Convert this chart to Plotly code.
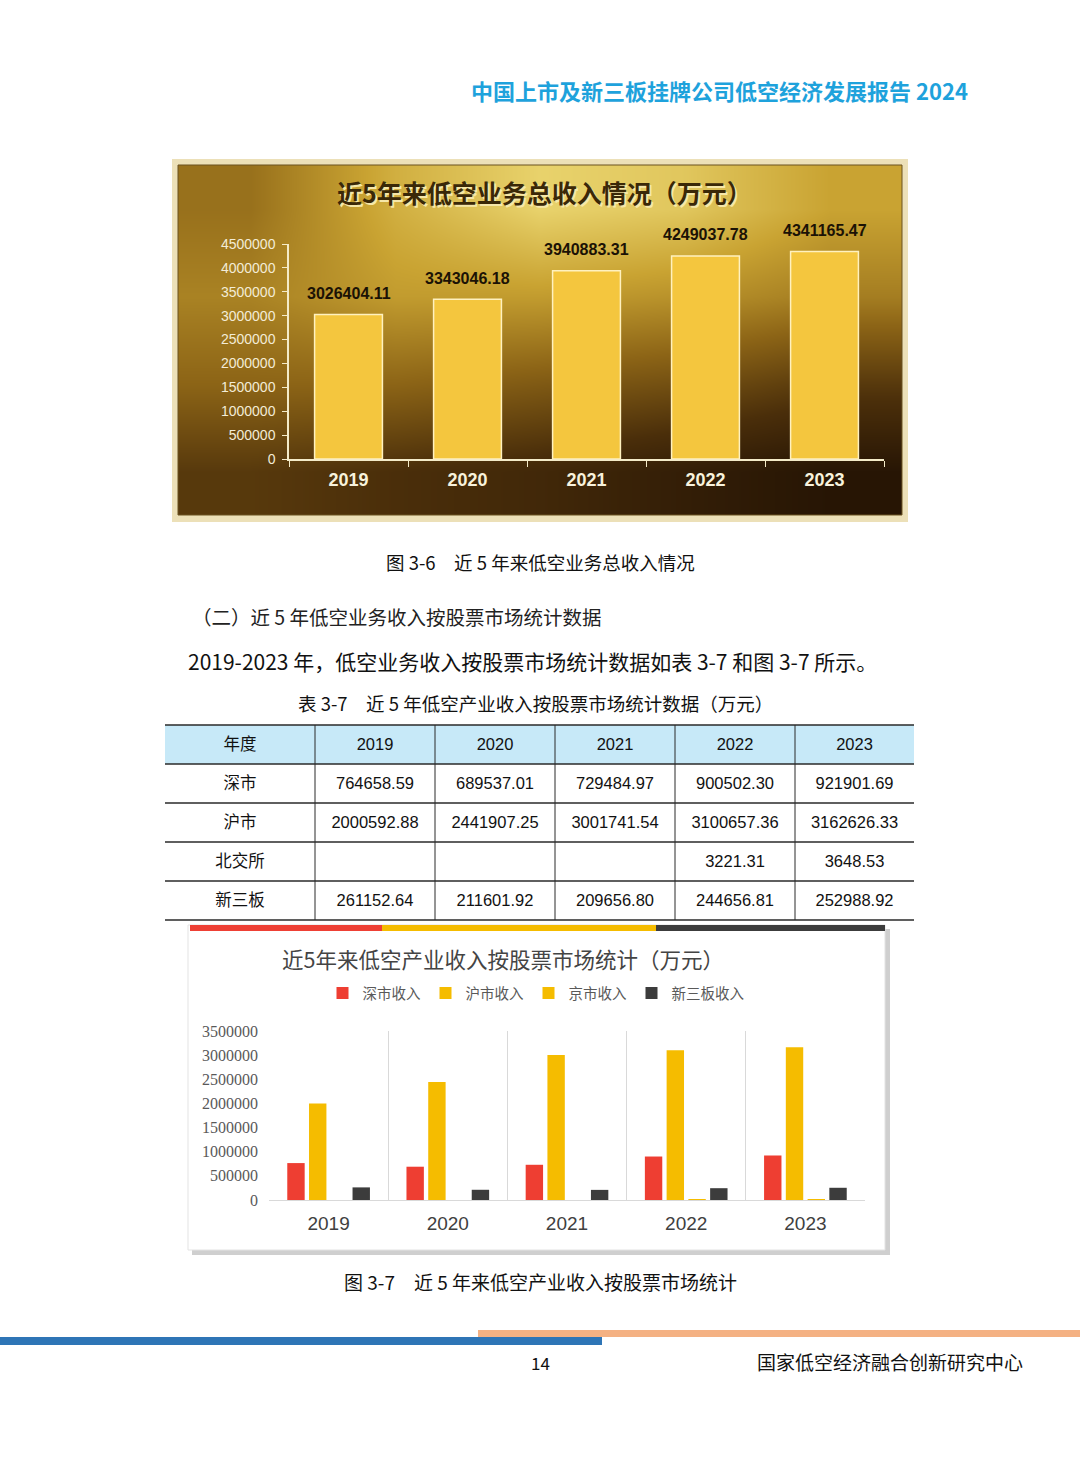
import plotly.graph_objects as go

W, H = 1080, 1465
CJK = "Noto Sans CJK SC"

years = ["2019", "2020", "2021", "2022", "2023"]
total_income = [3026404.11, 3343046.18, 3940883.31, 4249037.78, 4341165.47]

markets = ["深市", "沪市", "北交所", "新三板"]
sz_income = [764658.59, 689537.01, 729484.97, 900502.30, 921901.69]
sh_income = [2000592.88, 2441907.25, 3001741.54, 3100657.36, 3162626.33]
bj_income = [None, None, None, 3221.31, 3648.53]
xsb_income = [261152.64, 211601.92, 209656.80, 244656.81, 252988.92]
legend_names = ["深市收入", "沪市收入", "京市收入", "新三板收入"]

# gold backdrop for the first chart (bottom row first)
bg_grid = [[0.30, 0.25, 0.20, 0.12, 0.05],
           [0.50, 0.50, 0.45, 0.40, 0.30],
           [0.62, 0.72, 0.72, 0.68, 0.60],
           [0.55, 0.80, 0.95, 0.90, 0.75]]
bg_scale = [[0, '#1e0f03'], [0.25, '#4a2e0a'], [0.5, '#8c6416'],
            [0.75, '#c9a332'], [1, '#f0de7a']]


def px_x(p):
    return p / W


def px_y(p):
    return 1 - p / H


def fmt(v):
    return "" if v is None else "{:.2f}".format(v)


fig = go.Figure()

fig.add_trace(go.Heatmap(z=bg_grid, colorscale=bg_scale, zmin=0, zmax=1, zsmooth='best',
                         showscale=False, hoverinfo='skip', xaxis='x', yaxis='y'))

fig.add_trace(go.Bar(x=years, y=total_income, width=0.57, showlegend=False,
                     marker=dict(color='#f4c63e', line=dict(color='#fff1bf', width=1.5)),
                     xaxis='x2', yaxis='y2'))

bar_colors = ['#ee3e32', '#f5bc00', '#f5bc00', '#3c3c3c']
for name, vals, c in zip(legend_names, [sz_income, sh_income, bj_income, xsb_income], bar_colors):
    fig.add_trace(go.Bar(x=years, y=vals, name=name, marker=dict(color=c, line=dict(width=0)),
                         xaxis='x3', yaxis='y3'))

# table 3-7 (text only; fills and rules are drawn as shapes so the text sits mid-row)
TBL_L, TBL_R, TBL_T, ROW_H = 165, 914, 725, 39
COL_W = [150, 120, 120, 120, 120, 119]
no_line = dict(color='rgba(0,0,0,0)', width=0)
table_cols = [markets] + [[fmt(s[i]) for s in (sz_income, sh_income, bj_income, xsb_income)]
                          for i in range(len(years))]
fig.add_trace(go.Table(
    domain=dict(x=[px_x(TBL_L), px_x(TBL_R)], y=[px_y(TBL_T + 5 + 5 * ROW_H), px_y(TBL_T + 5)]),
    columnwidth=COL_W,
    header=dict(values=["年度"] + years, height=ROW_H, fill_color='rgba(0,0,0,0)', align='center',
                line=no_line, font=dict(family="Liberation Sans, " + CJK, size=16.5, color='#111')),
    cells=dict(values=table_cols, height=ROW_H, fill_color='rgba(0,0,0,0)', align='center',
               line=no_line, font=dict(family="Liberation Sans, " + CJK, size=16.5, color='#111'))))

ann = []


def note(text, x, y, size, color='#000', xanchor='center', bold=False, family=CJK, xref='paper', yref='paper', **kw):
    ann.append(dict(text=text, x=x if xref != 'paper' else px_x(x), y=y if yref != 'paper' else px_y(y),
                    xref=xref, yref=yref, showarrow=False, xanchor=xanchor, yanchor='middle',
                    font=dict(family=family, size=size, color=color, weight='bold' if bold else 'normal'), **kw))


note("中国上市及新三板挂牌公司低空经济发展报告 2024", 970, 90, 22, '#1ea2dc', xanchor='right', bold=True)

note("近5年来低空业务总收入情况（万元）", 546, 194, 25, '#f6e7a8', bold=True)
note("近5年来低空业务总收入情况（万元）", 544, 192, 25, '#3a2807', bold=True)
# value labels sit on category index i of the first chart
for i, v in enumerate(total_income):
    note(fmt(v), i, v, 16, '#1b1205', bold=True, family="Liberation Sans Narrow, Liberation Sans",
         xref='x2', yref='y2', yshift=21)

note("图 3-6　近 5 年来低空业务总收入情况", 540, 562, 18.5, '#111')
note("（二）近 5 年低空业务收入按股票市场统计数据", 190, 617, 19.5, '#222', xanchor='left')
note("2019-2023 年，低空业务收入按股票市场统计数据如表 3-7 和图 3-7 所示。", 186, 661, 21, '#111', xanchor='left')
note("表 3-7　近 5 年低空产业收入按股票市场统计数据（万元）", 535, 703, 18.5, '#111')

note("近5年来低空产业收入按股票市场统计（万元）", 503, 958, 21.5, '#444')

note("图 3-7　近 5 年来低空产业收入按股票市场统计", 540, 1281, 19, '#111')
note("14", 540, 1362, 17, '#111')
note("国家低空经济融合创新研究中心", 1025, 1361, 19, '#111', xanchor='right')


def rect(x0, y0, x1, y1, fill=None, line=None, lw=0, layer='above'):
    return dict(type='rect', xref='paper', yref='paper', x0=px_x(x0), x1=px_x(x1), y0=px_y(y1), y1=px_y(y0),
                fillcolor=fill, line=dict(color=line, width=lw), layer=layer)


def hline(x0, x1, y, color, lw):
    return dict(type='line', xref='paper', yref='paper', x0=px_x(x0), x1=px_x(x1), y0=px_y(y), y1=px_y(y),
                line=dict(color=color, width=lw))


def vline(x, y0, y1, color, lw):
    return dict(type='line', xref='paper', yref='paper', x0=px_x(x), x1=px_x(x), y0=px_y(y0), y1=px_y(y1),
                line=dict(color=color, width=lw))


shapes = [
    rect(172, 159, 908, 522, fill='#ece0b8', layer='below'),
    rect(178, 165, 902, 515, line='#6b5320', lw=1),
    # table header band
    rect(TBL_L, TBL_T, TBL_R, TBL_T + ROW_H, fill='#c7e9f8', layer='below'),
    # chart 2 card
    rect(192, 929, 890, 1255, fill='#cfcfcf', layer='below'),
    rect(188, 925, 885, 1250, fill='white', line='#e3e3e3', lw=1, layer='below'),
    rect(190, 925, 382, 931, fill='#ee4035'),
    rect(382, 925, 656, 931, fill='#f5bc00'),
    rect(656, 925, 885, 931, fill='#3c3c3c'),
    # footer bars
    rect(478, 1330, 1080, 1337, fill='#f4b183'),
    rect(0, 1337, 602, 1345, fill='#2e75b6'),
]
for k in range(6):
    shapes.append(hline(TBL_L, TBL_R, TBL_T + k * ROW_H, '#2a2a2a', 1.3))
xpos = TBL_L
for w in COL_W[:-1]:
    xpos += w
    shapes.append(vline(xpos, TBL_T, TBL_T + 5 * ROW_H, '#2a2a2a', 1))

fig.update_layout(
    width=W, height=H, autosize=False,
    margin=dict(l=0, r=0, t=0, b=0, pad=0, autoexpand=False),
    paper_bgcolor='white', plot_bgcolor='rgba(0,0,0,0)',
    barmode='group', bargap=0.27, bargroupgap=0.2,
    font=dict(family=CJK),
    annotations=ann, shapes=shapes,
    xaxis=dict(domain=[px_x(178), px_x(902)], range=[-0.5, 4.5], visible=False, fixedrange=True),
    yaxis=dict(domain=[px_y(515), px_y(165)], range=[-0.5, 3.5], visible=False, fixedrange=True),
    xaxis2=dict(domain=[px_x(289), px_x(884)], anchor='y2', type='category', range=[-0.5, 4.5],
                showline=True, linecolor='#f4ebc8', linewidth=1.5, automargin=False,
                ticks='outside', tickson='boundaries', ticklen=6, tickcolor='#f4ebc8',
                showgrid=False, ticklabelstandoff=4,
                tickfont=dict(family="Liberation Sans", size=18, color='#f8f2dc', weight='bold')),
    yaxis2=dict(domain=[px_y(459), px_y(244)], anchor='x2', range=[0, 4500000], automargin=False,
                tickvals=list(range(0, 4500001, 500000)), tickformat='d',
                showline=True, linecolor='#f4ebc8', linewidth=1.5,
                ticks='outside', ticklen=5, tickcolor='#f4ebc8', showgrid=False, zeroline=False,
                ticklabelstandoff=4,
                tickfont=dict(family="Liberation Sans", size=14, color='#f3ecd6')),
    xaxis3=dict(domain=[px_x(269), px_x(865)], anchor='y3', type='category', range=[-0.5, 4.5],
                showline=True, linecolor='#d9d9d9', ticks='', tickson='boundaries', automargin=False,
                showgrid=True, gridcolor='#d9d9d9', ticklabelstandoff=6,
                tickfont=dict(family="Liberation Sans", size=19, color='#404040')),
    yaxis3=dict(domain=[px_y(1200), px_y(1031)], anchor='x3', range=[0, 3500000], automargin=False,
                tickvals=list(range(0, 3500001, 500000)), tickformat='d',
                showline=False, showgrid=False, zeroline=False, ticks='', ticklabelstandoff=10,
                tickfont=dict(family="Liberation Serif", size=16, color='#595959')),
    legend=dict(orientation='h', x=px_x(536), xanchor='center', y=px_y(993), yanchor='middle',
                itemwidth=30, bgcolor='rgba(0,0,0,0)', traceorder='normal',
                font=dict(family="Liberation Serif, " + CJK, size=14.5, color='#595959')),
)

fig.write_html("out.html", config={'displayModeBar': False},
               post_script="document.body.style.margin='0';")
